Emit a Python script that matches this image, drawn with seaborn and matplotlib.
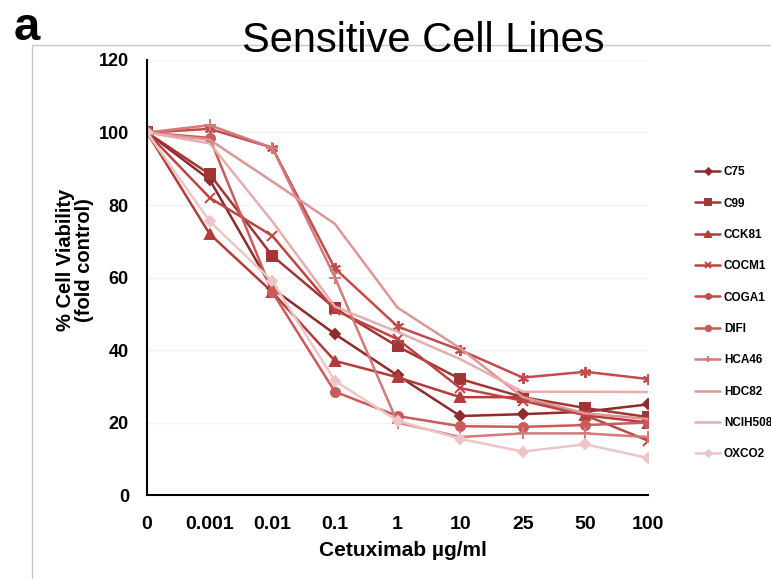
import pandas as pd
import matplotlib.pyplot as plt
import seaborn as sns
from matplotlib.lines import Line2D

# Doses (categorical x axis)
doses = ["0", "0.001", "0.01", "0.1", "1", "10", "25", "50", "100"]

# Cell viability per cell line (% of control)
c75 = [100, 87, 57, 44.4, 33, 21.8, 22.3, 23, 25]
c99 = [100, 88.5, 66, 51.5, 41, 32, 27, 24, 21.5]
cck81 = [100, 72, 56, 37, 32.5, 27, 27, 22, 20]
cocm1 = [100, 82, 71.5, 51, 43, 29.5, 26, 22, 15]
coga1 = [100, 101, 95.8, 62.5, 46.5, 40, 32.4, 34, 32]
difi = [100, 98.5, 56, 28.5, 21.8, 19, 18.8, 19.3, 20]
hca46 = [100, 102, 95.8, 60, 20, 16, 17, 17, 16]
hdc82 = [100, 98, 86.5, 74.8, 51.7, 40.5, 27, 22.5, 21]
ncih508 = [100, 97, 75.5, 52, 45, 37.5, 28.5, 28.5, 28.4]
oxco2 = [100, 75.5, 59, 31.5, 20.5, 15.5, 12, 14, 10.2]

names = ["C75", "C99", "CCK81", "COCM1", "COGA1", "DIFI", "HCA46", "HDC82", "NCIH508", "OXCO2"]
series = [c75, c99, cck81, cocm1, coga1, difi, hca46, hdc82, ncih508, oxco2]

colors = ["#8E2B2B", "#A33434", "#B23B3B", "#BE4444", "#C34B4B", "#CB5A5A",
          "#D47A7A", "#DD9595", "#E4AEAE", "#ECC6C6"]
markers = ["D", "s", "^", "x", (6, 2, 0), "o", "+", None, None, "D"]
msizes = [5.5, 7.5, 6.5, 7, 8, 6.5, 8, 0, 0, 5.5]

rows = []
for n, vals in zip(names, series):
    for i, v in enumerate(vals):
        rows.append({"line": n, "pos": i, "dose": doses[i], "viability": v})
df = pd.DataFrame(rows)

sns.set_style("white", {"text.color": "black", "axes.labelcolor": "black",
                        "xtick.color": "black", "ytick.color": "black"})
plt.rcParams["font.family"] = ["Liberation Sans", "DejaVu Sans"]

fig = plt.figure(figsize=(7.71, 5.79), dpi=100)
ax = fig.add_axes([0.1907, 0.145, 0.8405 - 0.1907, 0.8964 - 0.145])

for n, c, m, ms in zip(names, colors, markers, msizes):
    d = df[df["line"] == n]
    kw = dict(marker=m, markersize=ms) if m is not None else {}
    sns.lineplot(data=d, x="pos", y="viability", ax=ax, color=c, linewidth=1.8,
                 label=n, sort=False, markeredgewidth=1.4, markeredgecolor=c, **kw)

ax.set_xlim(0, len(doses) - 1)
ax.set_ylim(0, 120)
ax.set_xticks(range(len(doses)))
ax.set_xticklabels(doses)
ax.set_yticks(range(0, 121, 20))
ax.yaxis.grid(True, color="#F2F2F2", linewidth=1)
ax.set_axisbelow(True)
for s in ["top", "right"]:
    ax.spines[s].set_visible(False)
for s in ["left", "bottom"]:
    ax.spines[s].set_color("black")
    ax.spines[s].set_linewidth(1.5)
ax.tick_params(axis="both", direction="out", length=5, width=1.3, color="black",
               labelcolor="black")
ax.tick_params(axis="x", labelsize=14, pad=10)
ax.tick_params(axis="y", labelsize=13, pad=8)
for lab in ax.get_xticklabels() + ax.get_yticklabels():
    lab.set_fontweight("bold")

ax.set_xlabel("Cetuximab \u00b5g/ml", fontsize=15, fontweight="bold", color="black")
ax.xaxis.set_label_coords(0.51, -0.105)
ax.set_ylabel("% Cell Viability\n(fold control)", fontsize=14.5, fontweight="bold",
              linespacing=1.0, color="black")
ax.yaxis.set_label_coords(-0.105, 0.54)

ax.legend(loc="upper left", bbox_to_anchor=(0.902, 0.713), bbox_transform=fig.transFigure,
          frameon=False, prop={"size": 8.5, "weight": "bold"}, labelspacing=1.64,
          handlelength=2.1, handletextpad=0.3, borderpad=0, borderaxespad=0,
          markerscale=0.6)

fig.text(0.549, 0.93, "Sensitive Cell Lines", ha="center", va="center", fontsize=30,
         color="black")
fig.text(0.018, 0.952, "a", ha="left", va="center", fontsize=34, fontweight="bold",
         color="black")

# thin frame around the panel
fig.add_artist(Line2D([32 / 771, 32 / 771], [0, 1 - 45 / 579], transform=fig.transFigure,
                      color="#C8C8C8", linewidth=1))
fig.add_artist(Line2D([32 / 771, 1], [1 - 45 / 579, 1 - 45 / 579], transform=fig.transFigure,
                      color="#C8C8C8", linewidth=1))

fig.savefig("out.png", dpi=100)
